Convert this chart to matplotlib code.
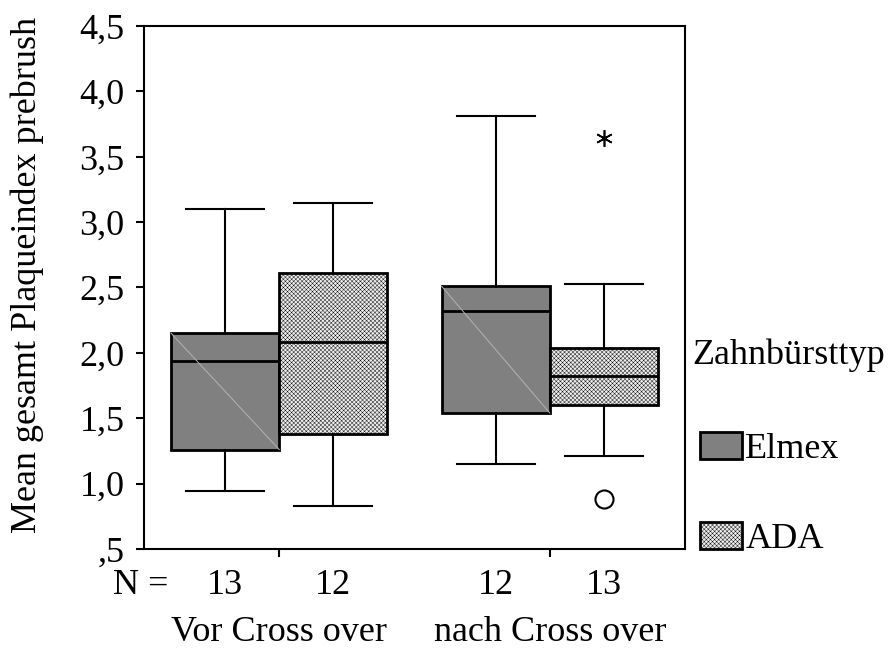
import matplotlib
matplotlib.use("Agg")
import matplotlib.pyplot as plt
from matplotlib.patches import Patch
import numpy as np

plt.rcParams['font.family'] = ['Liberation Serif', 'DejaVu Serif']
plt.rcParams['hatch.linewidth'] = 0.3
plt.rcParams['hatch.color'] = '#a8a8a8'

groups = ["Vor Cross over", "nach Cross over"]
types = ["Elmex", "ADA"]
n_counts = [[13, 12], [12, 13]]
# stats per group per type: whislo, q1, median, q3, whishi
whislo = [[0.94, 0.83], [1.15, 1.21]]
q1 = [[1.26, 1.38], [1.54, 1.60]]
med = [[1.94, 2.08], [2.32, 1.82]]
q3 = [[2.15, 2.61], [2.51, 2.04]]
whishi = [[3.10, 3.15], [3.81, 2.53]]
outlier_circle = [[[], []], [[], [0.88]]]
outlier_star = [[[], []], [[], [3.64]]]
yticks = [0.5, 1.0, 1.5, 2.0, 2.5, 3.0, 3.5, 4.0, 4.5]
yticklabels = [",5", "1,0", "1,5", "2,0", "2,5", "3,0", "3,5", "4,0", "4,5"]

FS = 26

fig = plt.figure(figsize=(8.88, 6.5), dpi=100)
ax = fig.add_axes([0.1622, 0.1554, 0.6092, 0.8046])

width = 0.4
offsets = [-0.2, 0.2]
fills = ['#808080', '#ededed']
hatches = [None, 'xxxxxxxx']

for gi, g in enumerate(groups):
    for ti, t in enumerate(types):
        pos = gi + 1 + offsets[ti]
        st = dict(whislo=whislo[gi][ti], q1=q1[gi][ti], med=med[gi][ti],
                  q3=q3[gi][ti], whishi=whishi[gi][ti],
                  fliers=outlier_circle[gi][ti])
        bp = ax.bxp([st], positions=[pos], widths=width, patch_artist=True,
                    showfliers=True, capwidths=[width * 0.72],
                    boxprops=dict(facecolor=fills[ti], edgecolor='black', linewidth=2.0,
                                  hatch=hatches[ti]),
                    medianprops=dict(color='black', linewidth=2.0),
                    whiskerprops=dict(color='black', linewidth=1.5),
                    capprops=dict(color='black', linewidth=1.5),
                    flierprops=dict(marker='o', markersize=13, markerfacecolor='white',
                                    markeredgecolor='black', markeredgewidth=1.5))
        for b in bp['boxes']:
            b.set_zorder(2)
        if ti == 0:
            ax.plot([pos - width / 2, pos + width / 2], [q3[gi][ti], q1[gi][ti]],
                    color='#b4b4b4', linewidth=0.7, zorder=2.5)
        if outlier_star[gi][ti]:
            ax.plot([pos] * len(outlier_star[gi][ti]), outlier_star[gi][ti],
                    linestyle='none', marker=(6, 2, 0), markersize=12,
                    color='black', markeredgewidth=1.2, zorder=3)
        ax.text(pos, -0.069, str(n_counts[gi][ti]), transform=ax.get_xaxis_transform(),
                ha='center', va='center', fontsize=FS)

fig.text(113 / 888, 1 - 585 / 650, "N =", ha='left', va='center', fontsize=FS)

for gi, g in enumerate(groups):
    ax.text(gi + 1, -0.16, g, transform=ax.get_xaxis_transform(),
            ha='center', va='center', fontsize=FS)

ax.set_xlim(0.5, 2.5)
ax.set_ylim(0.5, 4.5)
ax.set_xticks([1, 2])
ax.set_xticklabels([])
ax.set_yticks(yticks)
ax.set_yticklabels(yticklabels, fontsize=FS)
ax.tick_params(axis='both', direction='out', length=6, width=1.5, color='black')
ax.tick_params(axis='y', pad=8)
for s in ax.spines.values():
    s.set_linewidth(1.5)
fig.text(27 / 888, 1 - 275 / 650, "Mean gesamt Plaqueindex prebrush", rotation=90,
         ha='center', va='center', fontsize=FS)

fig.text(692 / 888, 1 - 355 / 650, "Zahnbürsttyp", ha='left', va='center', fontsize=FS)
handles = [Patch(facecolor=fills[i], edgecolor='black', linewidth=2.0, hatch=hatches[i])
           for i in range(2)]
leg = fig.legend(handles, types, loc='upper left', bbox_to_anchor=(700 / 888, 1 - 432 / 650),
                 frameon=False, fontsize=FS, handlelength=1.17, handleheight=0.78,
                 handletextpad=0.08, labelspacing=1.55, borderaxespad=0, borderpad=0)

fig.savefig("out.png", dpi=100)
